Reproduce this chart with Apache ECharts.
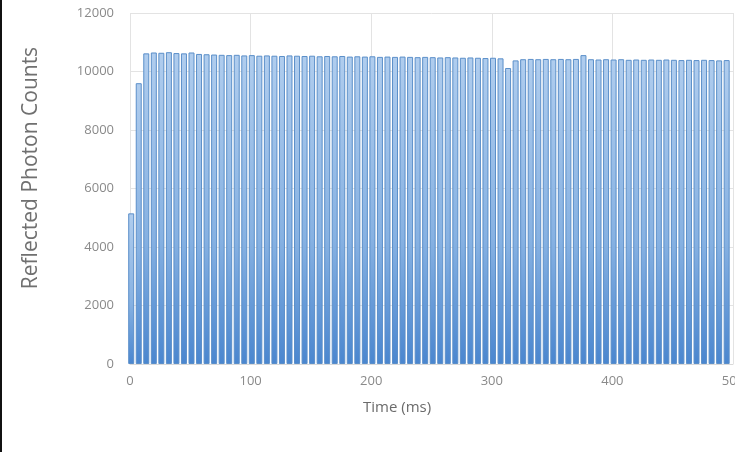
<!DOCTYPE html>
<html>
<head>
<meta charset="utf-8">
<script src="https://cdn.jsdelivr.net/npm/echarts@6/dist/echarts.min.js"></script>
<style>
  html, body { margin: 0; padding: 0; background: #ffffff; }
  #chart { width: 735px; height: 452px; }
</style>
</head>
<body>
<div id="chart"></div>
<script>
// Pulse start times (ms) of the reflected light pulses
const pulseTimes = [
  1, 7.25, 13.5, 19.75, 26, 32.25, 38.5, 44.75, 51, 57.25,
  63.5, 69.75, 76, 82.25, 88.5, 94.75, 101, 107.25, 113.5, 119.75,
  126, 132.25, 138.5, 144.75, 151, 157.25, 163.5, 169.75, 176, 182.25,
  188.5, 194.75, 201, 207.25, 213.5, 219.75, 226, 232.25, 238.5, 244.75,
  251, 257.25, 263.5, 269.75, 276, 282.25, 288.5, 294.75, 301, 307.25,
  313.5, 319.75, 326, 332.25, 338.5, 344.75, 351, 357.25, 363.5, 369.75,
  376, 382.25, 388.5, 394.75, 401, 407.25, 413.5, 419.75, 426, 432.25,
  438.5, 444.75, 451, 457.25, 463.5, 469.75, 476, 482.25, 488.5, 494.75
];

// Peak photon counts for each pulse
const photonCounts = [
  5150, 9600, 10620, 10650, 10640, 10660, 10630, 10620, 10650, 10600,
  10590, 10580, 10570, 10560, 10570, 10550, 10560, 10540, 10550, 10540,
  10530, 10550, 10540, 10530, 10540, 10520, 10530, 10520, 10530, 10510,
  10520, 10510, 10520, 10500, 10510, 10500, 10510, 10500, 10490, 10500,
  10490, 10480, 10490, 10480, 10470, 10480, 10470, 10460, 10470, 10450,
  10120, 10380, 10420, 10430, 10420, 10430, 10420, 10430, 10420, 10430,
  10560, 10420, 10410, 10420, 10410, 10420, 10400, 10410, 10400, 10410,
  10400, 10410, 10400, 10390, 10400, 10390, 10400, 10390, 10380, 10390
];

// Axis ticks
const yTicks = [0, 2000, 4000, 6000, 8000, 10000, 12000];
const xTicks = [0, 100, 200, 300, 400, 500];

const seriesData = pulseTimes.map((t, i) => [t, photonCounts[i]]);

const chart = echarts.init(document.getElementById('chart'), null, { renderer: 'canvas' });

chart.setOption({
  backgroundColor: '#ffffff',
  animation: false,
  grid: { left: 130, right: 2, top: 13, bottom: 88, containLabel: false, outerBoundsMode: 'none' },
  xAxis: {
    type: 'value',
    min: xTicks[0],
    max: xTicks[xTicks.length - 1],
    interval: 100,
    axisLine: { show: true, lineStyle: { color: '#d9d9d9' } },
    axisTick: { show: false },
    splitLine: { show: true, lineStyle: { color: '#e3e3e3', width: 1 } },
    axisLabel: {
      color: '#8a8a8a', fontSize: 13, margin: 11, fontFamily: 'Open Sans',
      hideOverlap: false, showMaxLabel: true,
      formatter: v => String(v)
    }
  },
  yAxis: {
    type: 'value',
    min: yTicks[0],
    max: yTicks[yTicks.length - 1],
    interval: 2000,
    axisLine: { show: false },
    axisTick: { show: false },
    splitLine: { show: true, lineStyle: { color: '#e3e3e3', width: 1 } },
    axisLabel: {
      color: '#8a8a8a', fontSize: 13, margin: 16, fontFamily: 'Open Sans',
      formatter: v => String(v)
    }
  },
  series: [{
    type: 'bar',
    data: seriesData,
    barWidth: 6,
    itemStyle: {
      color: new echarts.graphic.LinearGradient(0, 0, 0, 1, [
        { offset: 0, color: '#b0cdee' },
        { offset: 0.6, color: '#86b1e2' },
        { offset: 1, color: '#4a86cf' }
      ]),
      borderColor: '#5b8fc9',
      borderWidth: 1
    }
  }],
  graphic: [
    {
      type: 'text',
      left: 363,
      top: 400,
      style: { text: 'Time (ms)', fill: '#6b6b6b', font: '15px "Open Sans"' }
    },
    {
      type: 'text',
      x: 31,
      y: 168,
      rotation: Math.PI / 2,
      style: {
        text: 'Reflected Photon Counts',
        fill: '#707070',
        font: '21px "Open Sans"',
        align: 'center',
        verticalAlign: 'middle'
      }
    },
    {
      type: 'rect',
      shape: { x: 0, y: 0, width: 2, height: 452 },
      style: { fill: '#111111' }
    }
  ]
});
</script>
</body>
</html>
